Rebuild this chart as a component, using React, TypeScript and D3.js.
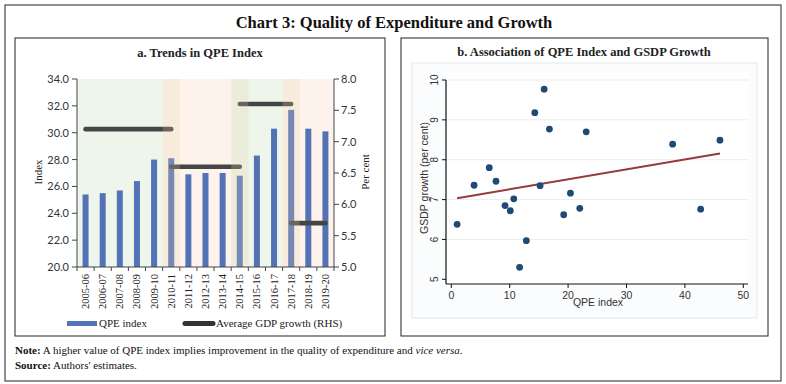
import * as d3 from "d3";

// ---- panel a data ----
const years = ["2005-06", "2006-07", "2007-08", "2008-09", "2009-10", "2010-11", "2011-12", "2012-13", "2013-14", "2014-15", "2015-16", "2016-17", "2017-18", "2018-19", "2019-20"];
const qpeIndex = [25.4, 25.5, 25.7, 26.4, 28.0, 28.1, 26.9, 27.0, 27.0, 26.8, 28.3, 30.3, 31.7, 30.3, 30.1];
const periodStart = ["2005-06", "2010-11", "2014-15", "2017-18"];
const periodEnd = ["2010-11", "2014-15", "2017-18", "2019-20"];
const avgGdpGrowth = [7.2, 6.6, 7.6, 5.7];
const indexTicks = [20, 22, 24, 26, 28, 30, 32, 34];
const perCentTicks = [5.0, 5.5, 6.0, 6.5, 7.0, 7.5, 8.0];

// ---- panel b data ----
const qpeStates = [1.0, 3.9, 6.5, 7.65, 9.2, 10.1, 10.7, 11.7, 12.85, 14.3, 15.2, 15.9, 16.8, 19.25, 20.4, 22.0, 23.1, 37.9, 42.7, 46.0];
const gsdpGrowth = [6.38, 7.36, 7.8, 7.46, 6.85, 6.72, 7.02, 5.3, 5.97, 9.18, 7.35, 9.77, 8.77, 6.62, 7.16, 6.78, 8.7, 8.39, 6.76, 8.49];
const qpeTicks = [0, 10, 20, 30, 40, 50];
const gsdpTicks = [5, 6, 7, 8, 9, 10];

const serif = "'Liberation Serif', 'DejaVu Serif', serif";
const sans = "'Liberation Sans', Arial, sans-serif";
const calib = "Lato, 'Open Sans', sans-serif";

function PanelA() {
  const x = d3.scaleBand().domain(years).range([77, 334]).paddingInner(0.65).paddingOuter(0.325);
  const band = d3.scaleBand().domain(years).range([77, 334]);
  const y = d3.scaleLinear().domain([20, 34]).range([267, 79]);
  const y2 = d3.scaleLinear().domain([5, 8]).range([267, 79]);
  const bgColors = ["#eef5ea", "#fdf3ec"];
  // years shared by two periods get a tan overlay
  const shared = periodStart.filter((d) => periodEnd.includes(d));
  const mid = (d: string) => (band(d) as number) + band.bandwidth() / 2;

  return (
    <g>
      <rect x={15} y={38} width={370} height={298} fill="#fff" stroke="#222" strokeWidth={1} />
      <text x={200} y={57} textAnchor="middle" fontFamily={serif} fontWeight="bold" fontSize={12.5} fill="#222">
        a. Trends in QPE Index
      </text>
      {periodStart.map((s, i) => (
        <rect key={"bg" + i} x={band(s)} y={79} width={(band(periodEnd[i]) as number) + band.bandwidth() - (band(s) as number)} height={188} fill={bgColors[i % 2]} />
      ))}
      {years.map((d, i) => (
        <rect key={"b" + d} x={x(d)} y={y(qpeIndex[i])} width={x.bandwidth()} height={y(20) - y(qpeIndex[i])} fill="#5473b7" />
      ))}
      {avgGdpGrowth.map((v, i) => (
        <line key={"l" + i} x1={mid(periodStart[i])} x2={mid(periodEnd[i])} y1={y2(v)} y2={y2(v)} stroke="#454545" strokeWidth={4.6} strokeLinecap="round" />
      ))}
      {shared.map((d) => (
        <rect key={"ov" + d} x={band(d)} y={79} width={band.bandwidth()} height={188} fill="rgb(228,210,172)" opacity={0.24} />
      ))}
      {/* axes */}
      <line x1={77} x2={77} y1={79} y2={267} stroke="#444" />
      <line x1={334} x2={334} y1={79} y2={267} stroke="#444" />
      <line x1={77} x2={334} y1={267} y2={267} stroke="#444" />
      {indexTicks.map((t) => (
        <g key={"yt" + t}>
          <line x1={72} x2={77} y1={y(t)} y2={y(t)} stroke="#444" />
          <text x={69} y={y(t) + 4} textAnchor="end" fontFamily={calib} fontSize={11} fill="#333">{t.toFixed(1)}</text>
        </g>
      ))}
      {perCentTicks.map((t) => (
        <g key={"y2t" + t}>
          <line x1={334} x2={339} y1={y2(t)} y2={y2(t)} stroke="#444" />
          <text x={341} y={y2(t) + 4} fontFamily={calib} fontSize={11} fill="#333">{t.toFixed(1)}</text>
        </g>
      ))}
      {years.map((d) => (
        <g key={"xt" + d}>
          <line x1={band(d)} x2={band(d)} y1={267} y2={271} stroke="#444" />
          <text transform={`translate(${mid(d) + 3.5},274) rotate(-90)`} textAnchor="end" fontFamily={serif} fontSize={10.5} fill="#222">{d}</text>
        </g>
      ))}
      <line x1={334} x2={334} y1={267} y2={271} stroke="#444" />
      <text transform="translate(42,172) rotate(-90)" textAnchor="middle" fontFamily={serif} fontSize={11} fill="#222">Index</text>
      <text transform="translate(369,172) rotate(-90)" textAnchor="middle" fontFamily={serif} fontSize={11} fill="#222">Per cent</text>
      {/* legend */}
      <rect x={67} y={321} width={30} height={5} fill="#5473b7" />
      <text x={99} y={327} fontFamily={serif} fontSize={11} fill="#222">QPE index</text>
      <line x1={185} x2={213} y1={323.5} y2={323.5} stroke="#333" strokeWidth={5} strokeLinecap="round" />
      <text x={216} y={327} fontFamily={serif} fontSize={11} fill="#222">Average GDP growth (RHS)</text>
    </g>
  );
}

function PanelB() {
  const x = d3.scaleLinear().domain([0, 50]).range([451.3, 743.3]);
  const y = d3.scaleLinear().domain([5, 10]).range([279.3, 80]);
  // least-squares fit line
  const mx = d3.mean(qpeStates) as number;
  const my = d3.mean(gsdpGrowth) as number;
  const sxy = d3.sum(qpeStates, (v, i) => (v - mx) * (gsdpGrowth[i] - my));
  const sxx = d3.sum(qpeStates, (v) => (v - mx) ** 2);
  const slope = sxy / sxx;
  const ext = d3.extent(qpeStates) as [number, number];
  const fit = d3.line<number>().x((v) => x(v)).y((v) => y(my + slope * (v - mx)));

  return (
    <g>
      <rect x={401} y={38} width={367} height={298} fill="#fff" stroke="#222" strokeWidth={1} />
      <text x={584} y={56} textAnchor="middle" fontFamily={serif} fontWeight="bold" fontSize={12.5} fill="#222">
        b. Association of QPE Index and GSDP Growth
      </text>
      <rect x={412} y={63} width={345} height={255} fill="#fbfcfd" stroke="#e9f0f4" strokeWidth={1.5} />
      <rect x={446} y={72} width={302} height={212} fill="#fff" />
      {gsdpTicks.filter((t) => t > 5).map((t) => (
        <line key={"g" + t} x1={446} x2={748} y1={y(t)} y2={y(t)} stroke="#e6edf1" strokeWidth={1} />
      ))}
      <line x1={446} x2={446} y1={y(10)} y2={284} stroke="#111" strokeWidth={1.2} />
      <line x1={446} x2={748} y1={284} y2={284} stroke="#111" strokeWidth={1.2} />
      {gsdpTicks.map((t) => (
        <g key={"yt" + t}>
          <line x1={442} x2={446} y1={y(t)} y2={y(t)} stroke="#111" />
          <text transform={`translate(${438},${y(t)}) rotate(-90)`} textAnchor="middle" fontFamily={sans} fontSize={10} fill="#333">{t}</text>
        </g>
      ))}
      {qpeTicks.map((t) => (
        <g key={"xt" + t}>
          <line x1={x(t)} x2={x(t)} y1={284} y2={288} stroke="#111" />
          <text x={x(t)} y={299} textAnchor="middle" fontFamily={sans} fontSize={10.5} fill="#333">{t}</text>
        </g>
      ))}
      <text transform="translate(428,178) rotate(-90)" textAnchor="middle" fontFamily={sans} fontSize={10.5} fill="#333">GSDP growth (per cent)</text>
      <text x={598} y={306} textAnchor="middle" fontFamily={sans} fontSize={10.5} fill="#333">QPE index</text>
      <path d={fit(ext) as string} fill="none" stroke="#963a3c" strokeWidth={2} />
      {qpeStates.map((v, i) => (
        <circle key={"p" + i} cx={x(v)} cy={y(gsdpGrowth[i])} r={3.4} fill="#1f4a75" />
      ))}
    </g>
  );
}

export default function App() {
  return (
    <div style={{ position: "absolute", left: 0, top: 0 }}>
      <svg width={786} height={384} style={{ display: "block", background: "#fff" }}>
        <rect x={5} y={5} width={776} height={376} fill="#fff" stroke="#222" strokeWidth={1} />
        <text x={394} y={28} textAnchor="middle" fontFamily={serif} fontWeight="bold" fontSize={16.5} fill="#111">
          Chart 3: Quality of Expenditure and Growth
        </text>
        <PanelA />
        <PanelB />
        <text x={15} y={354} fontFamily={serif} fontSize={11} fill="#111">
          <tspan fontWeight="bold">Note:</tspan> A higher value of QPE index implies improvement in the quality of expenditure and <tspan fontStyle="italic">vice versa</tspan>.
        </text>
        <text x={15} y={369} fontFamily={serif} fontSize={11} fill="#111">
          <tspan fontWeight="bold">Source:</tspan> Authors' estimates.
        </text>
      </svg>
    </div>
  );
}
